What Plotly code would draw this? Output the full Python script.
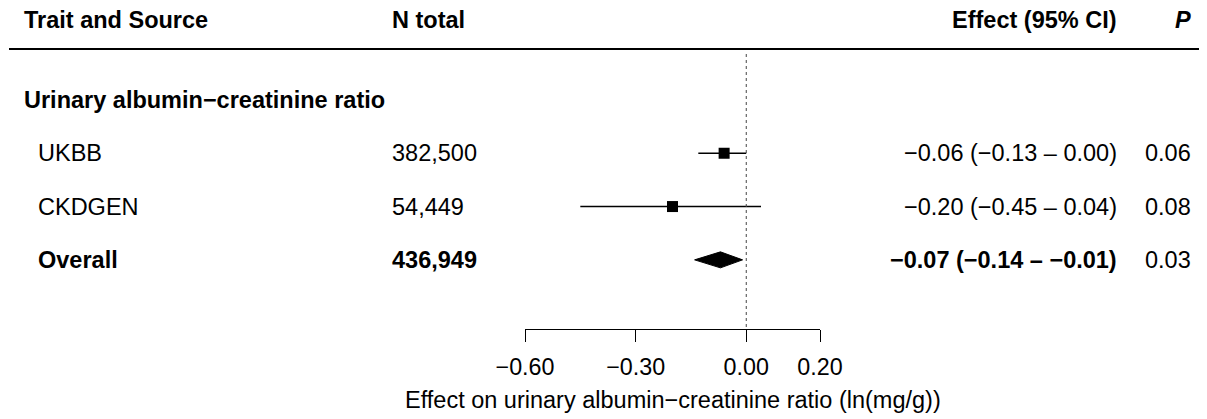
import plotly.graph_objects as go

# ---- data ----
group_label = "Urinary albumin\u2212creatinine ratio"
sources = ["UKBB", "CKDGEN"]
n_total = ["382,500", "54,449"]
est = [-0.06, -0.20]
lo = [-0.13, -0.45]
hi = [0.00, 0.04]
p_vals = ["0.06", "0.08"]

overall_label = "Overall"
overall_n = "436,949"
overall_est = -0.07
overall_lo = -0.14
overall_hi = -0.01
overall_p = "0.03"

tick_vals = [-0.60, -0.30, 0.00, 0.20]
x_title = "Effect on urinary albumin\u2212creatinine ratio (ln(mg/g))"
headers = ["Trait and Source", "N total", "Effect (95% CI)", "P"]

# row positions (row units)
row_header = 0
row_group = 1.5
rows = [2.5, 3.5]
row_overall = 4.5

# page is offset by the default 8px body margin
OFF = 8
W, H = 1207 - OFF, 419 - OFF
ROW_PX = 53.3
ROW0 = 20 - OFF
FONT = "Liberation Sans, Arial, sans-serif"
FS = 23.5


def fx(p):
    return (p - OFF) / W


def fy(p):
    return 1 - (p - OFF) / H


def fmt(v):
    s = f"{abs(v):.2f}"
    return ("\u2212" + s) if v < 0 and s != "0.00" else s


def eff(e, l, h):
    return f"{fmt(e)} ({fmt(l)} \u2013 {fmt(h)})"


fig = go.Figure()

# study estimates with CI
fig.add_trace(go.Scatter(
    x=est, y=rows, mode="markers",
    marker=dict(symbol="square", size=11, color="black"),
    error_x=dict(type="data", symmetric=False,
                 array=[h - e for h, e in zip(hi, est)],
                 arrayminus=[e - l for e, l in zip(est, lo)],
                 width=0, thickness=1.4, color="black"),
    cliponaxis=False, showlegend=False, hoverinfo="skip"))

# overall diamond
dh = 8 / ROW_PX
fig.add_trace(go.Scatter(
    x=[overall_lo, overall_est, overall_hi, overall_est, overall_lo],
    y=[row_overall, row_overall - dh, row_overall, row_overall + dh, row_overall],
    mode="lines", fill="toself", fillcolor="black",
    line=dict(color="black", width=1),
    cliponaxis=False, showlegend=False, hoverinfo="skip"))

ann = []


def add(text, x, y, anchor="left", bold=False, italic=False):
    t = text
    if bold:
        t = f"<b>{t}</b>"
    if italic:
        t = f"<i>{t}</i>"
    ann.append(dict(text=t, x=fx(x), y=y, xref="paper", yref="y",
                    xanchor=anchor, yanchor="middle", showarrow=False,
                    font=dict(family=FONT, size=FS, color="black")))


# header
add(headers[0], 22, row_header, bold=True)
add(headers[1], 390, row_header, bold=True)
add(headers[2], 1119, row_header, anchor="right", bold=True)
add(headers[3], 1193, row_header, anchor="right", bold=True, italic=True)

# group
add(group_label, 22, row_group, bold=True)

for i, r in enumerate(rows):
    add(sources[i], 36, r)
    add(n_total[i], 390, r)
    add(eff(est[i], lo[i], hi[i]), 1119, r, anchor="right")
    add(p_vals[i], 1193, r, anchor="right")

add(overall_label, 36, row_overall, bold=True)
add(overall_n, 390, row_overall, bold=True)
add(eff(overall_est, overall_lo, overall_hi), 1119, row_overall, anchor="right", bold=True)
add(overall_p, 1193, row_overall, anchor="right")

# axis title (centred on the axis domain)
ann.append(dict(text=x_title, x=(fx(525) + fx(820)) / 2, y=fy(400), xref="paper", yref="paper",
                xanchor="center", yanchor="middle", showarrow=False,
                font=dict(family=FONT, size=FS, color="black")))

shapes = [
    dict(type="line", xref="paper", yref="paper", x0=fx(9), x1=1.01,
         y0=fy(49), y1=fy(49), line=dict(color="black", width=2)),
    dict(type="line", xref="x", yref="paper", x0=0, x1=0,
         y0=fy(327), y1=fy(52),
         line=dict(color="#444", width=1, dash="dot")),
]

fig.update_layout(
    width=W, height=H, margin=dict(l=0, r=0, t=0, b=0, pad=0),
    paper_bgcolor="white", plot_bgcolor="white",
    annotations=ann, shapes=shapes,
    xaxis=dict(domain=[fx(525), fx(820)], range=[-0.6, 0.2],
               anchor="free", position=fy(329), automargin=False,
               showgrid=False, zeroline=False, showline=True,
               linecolor="black", linewidth=1.4,
               ticks="outside", ticklen=12, tickwidth=1.4, tickcolor="black",
               tickvals=tick_vals, tickformat=".2f",
               tickfont=dict(family=FONT, size=23.3, color="black"),
               ticklabelstandoff=5, fixedrange=True),
    yaxis=dict(domain=[0, 1], range=[(H - ROW0) / ROW_PX, -ROW0 / ROW_PX],
               visible=False, fixedrange=True, automargin=False),
    font=dict(family=FONT, size=FS, color="black"),
)

fig.write_html("out.html")
